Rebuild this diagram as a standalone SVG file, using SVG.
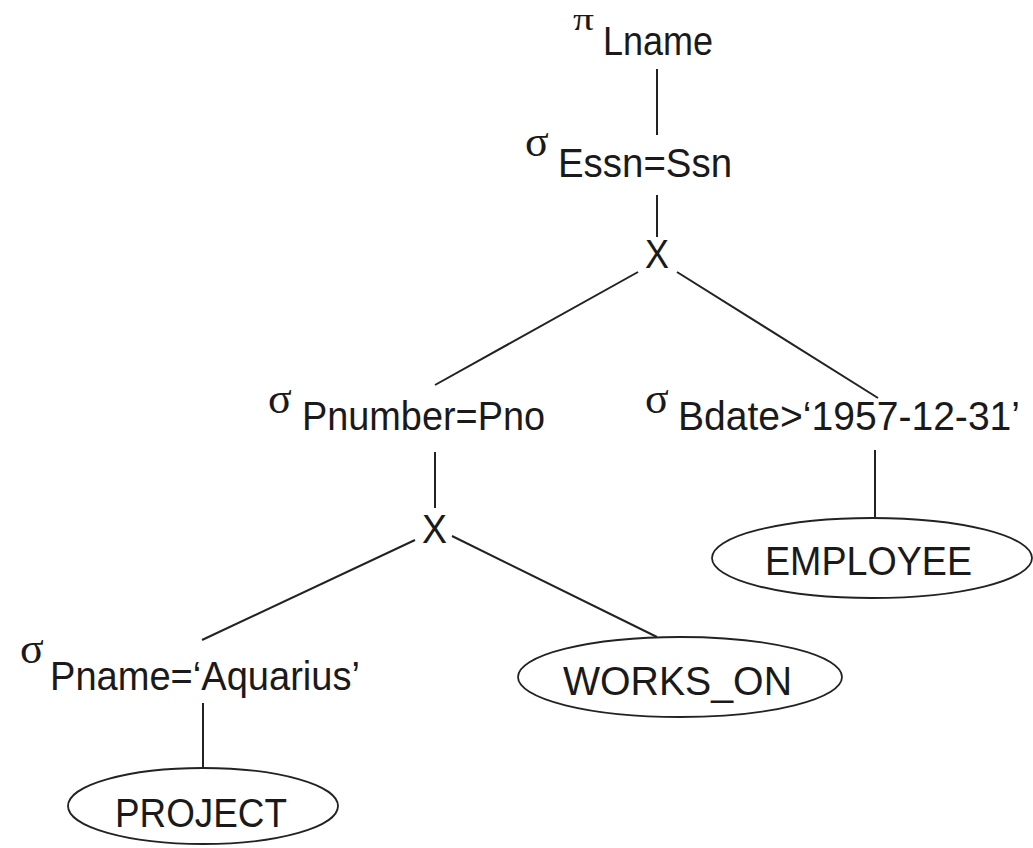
<svg xmlns="http://www.w3.org/2000/svg" width="1033" height="848" viewBox="0 0 1033 848">
<style>
.t{font-family:"Liberation Sans",Arial,sans-serif;font-size:40px;fill:#1a1a1a}
.g{font-family:"Liberation Serif","Times New Roman",serif;font-size:44px;fill:#1a1a1a}
.p{font-family:"Liberation Serif","Times New Roman",serif;font-size:32px;fill:#1a1a1a}
.x{font-family:"Liberation Sans",Arial,sans-serif;font-size:41px;fill:#1a1a1a}
.e{fill:none;stroke:#222;stroke-width:1.8}
.c line{stroke:#222;stroke-width:2}
</style>
<rect width="1033" height="848" fill="#fff"/>
<g class="c" id="connectors">
<line x1="657" y1="69" x2="657" y2="135"/>
<line x1="657" y1="195" x2="657" y2="237"/>
<line x1="638" y1="272" x2="435" y2="385"/>
<line x1="677" y1="272" x2="878" y2="398"/>
<line x1="435" y1="452" x2="435" y2="508"/>
<line x1="415" y1="540" x2="202" y2="640"/>
<line x1="452" y1="536" x2="657" y2="637"/>
<line x1="875" y1="450" x2="875" y2="517"/>
<line x1="203" y1="703" x2="203" y2="768"/>
</g>
<g id="project-lname">
<text class="p" x="573" y="30" textLength="21" lengthAdjust="spacingAndGlyphs">π</text>
<text class="t" x="603" y="55" textLength="110" lengthAdjust="spacingAndGlyphs">Lname</text>
</g>
<g id="select-essn">
<text class="g" x="525" y="156">σ</text>
<text class="t" x="558" y="177" textLength="174" lengthAdjust="spacingAndGlyphs">Essn=Ssn</text>
</g>
<g id="cross1">
<text class="x" x="645" y="268" textLength="24" lengthAdjust="spacingAndGlyphs">X</text>
</g>
<g id="select-pnumber">
<text class="g" x="268" y="413">σ</text>
<text class="t" x="302" y="430" textLength="243" lengthAdjust="spacingAndGlyphs">Pnumber=Pno</text>
</g>
<g id="select-bdate">
<text class="g" x="645" y="413">σ</text>
<text class="t" x="678" y="430" textLength="342" lengthAdjust="spacingAndGlyphs">Bdate&gt;‘1957-12-31’</text>
</g>
<g id="cross2">
<text class="x" x="422" y="543" textLength="25" lengthAdjust="spacingAndGlyphs">X</text>
</g>
<g id="employee">
<ellipse class="e" cx="872" cy="558" rx="160" ry="40"/>
<text class="t" x="765" y="575" textLength="207" lengthAdjust="spacingAndGlyphs">EMPLOYEE</text>
</g>
<g id="select-pname">
<text class="g" x="20" y="663">σ</text>
<text class="t" x="50" y="690" textLength="310" lengthAdjust="spacingAndGlyphs">Pname=‘Aquarius’</text>
</g>
<g id="works-on">
<ellipse class="e" cx="680" cy="677" rx="162" ry="40"/>
<text class="t" x="563" y="695" textLength="229" lengthAdjust="spacingAndGlyphs">WORKS_ON</text>
</g>
<g id="project">
<ellipse class="e" cx="203" cy="806" rx="135" ry="38"/>
<text class="t" x="115" y="827" textLength="172" lengthAdjust="spacingAndGlyphs">PROJECT</text>
</g>
</svg>
